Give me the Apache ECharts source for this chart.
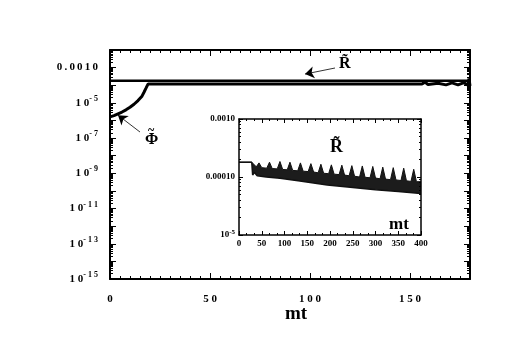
<!DOCTYPE html>
<html>
<head>
<meta charset="utf-8">
<script src="https://cdn.jsdelivr.net/npm/echarts@6/dist/echarts.min.js"></script>
<style>
  html, body { margin: 0; padding: 0; background: #fff; }
</style>
</head>
<body>
<div id="main" style="width: 526px;height:349px;"></div>

<script type="text/javascript">
    // main plot: R and Phi against mt
    var rMt = [0, 180];
    var rVal = [1.8e-4, 1.8e-4];

    var phiMt = [0, 2, 4, 6, 8, 10, 12, 14, 16, 17, 18, 19, 60, 100, 140, 156, 157.5, 159, 164, 168, 171, 174, 177, 179, 179.5, 180];
    var phiVal = [1.6e-6, 1.9e-6, 2.4e-6, 3.0e-6, 4.0e-6, 5.6e-6, 8.3e-6, 1.35e-5, 2.4e-5, 4.0e-5, 6.8e-5, 1.17e-4,
        1.17e-4, 1.17e-4, 1.17e-4, 1.17e-4, 1.5e-4, 1.1e-4, 1.3e-4, 1.05e-4, 1.35e-4, 1.05e-4, 1.4e-4, 1.0e-4, 2.4e-4, 9e-5];

    // inset: upper and lower edge of the oscillating R band
    var upMt = [0, 28, 31, 38, 44, 50, 61, 67, 73, 84, 90, 96, 106, 112, 118, 129, 135, 141, 152, 158, 164,
        174, 180, 186, 197, 203, 209, 220, 226, 232, 242, 248, 254, 265, 271, 277, 288, 294, 300,
        310, 316, 322, 333, 339, 345, 356, 362, 368, 378, 384, 390, 400];
    var upVal = [1.8e-4, 1.8e-4, 1.7e-4, 1.5e-4, 1.75e-4, 1.45e-4, 1.42e-4, 1.8e-4, 1.4e-4, 1.38e-4, 1.85e-4, 1.35e-4,
        1.33e-4, 1.8e-4, 1.3e-4, 1.28e-4, 1.75e-4, 1.26e-4, 1.24e-4, 1.7e-4, 1.22e-4,
        1.18e-4, 1.66e-4, 1.16e-4, 1.14e-4, 1.62e-4, 1.12e-4, 1.1e-4, 1.6e-4, 1.08e-4, 1.05e-4, 1.57e-4, 1.03e-4,
        1.0e-4, 1.55e-4, 9.9e-5, 9.7e-5, 1.52e-4, 9.6e-5, 9.3e-5, 1.48e-4, 9.2e-5, 9.0e-5, 1.45e-4, 8.9e-5,
        8.7e-5, 1.42e-4, 8.6e-5, 8.4e-5, 1.36e-4, 8.3e-5, 8.3e-5];
    var lowMt = [0, 28, 30, 34, 40, 60, 90, 130, 194, 250, 300, 350, 400];
    var lowVal = [1.8e-4, 1.8e-4, 1.08e-4, 1.2e-4, 1.05e-4, 1.0e-4, 9.5e-5, 8.6e-5, 7.3e-5, 6.6e-5, 6.0e-5, 5.6e-5, 5.2e-5];

    // ticks
    var mainXMajor = [0, 50, 100, 150];
    var insetXMajor = [0, 50, 100, 150, 200, 250, 300, 350, 400];
    var mainYLabels = [1e-15, 1e-13, 1e-11, 1e-9, 1e-7, 1e-5, 1e-3];
    var insetYLabels = [1e-5, 1e-4, 1e-3];

    function range(a, b, step) {
        var out = [];
        for (var v = a; v <= b + 1e-9; v += step) out.push(Math.round(v * 1000) / 1000);
        return out;
    }
    function decades(e0, e1) {
        var out = [];
        for (var e = e0; e <= e1; e++) out.push(Number('1e' + e));
        return out;
    }
    function logMinor(e0, e1) {
        var out = [];
        for (var e = e0; e < e1; e++) {
            for (var k = 2; k <= 9; k++) out.push(Number(k + 'e' + e));
        }
        return out;
    }
    function zip(xs, ys) {
        return xs.map(function (x, i) { return [x, ys[i]]; });
    }

    var mainXMinor = range(0, 180, 5).filter(function (v) { return v % 50 !== 0; });
    var insetXMinor = range(0, 400, 50 / 3).filter(function (v) { return Math.abs(v % 50) > 1 && Math.abs(v % 50 - 50) > 1; });

    var serif = '"Liberation Serif", "DejaVu Serif", serif';
    var rich = {
        b: { fontSize: 11, fontWeight: 'bold', fontFamily: serif, color: '#000', lineHeight: 16 },
        s: { fontSize: 8, fontWeight: 'bold', fontFamily: serif, color: '#000', lineHeight: 8, verticalAlign: 'top' },
        bi: { fontSize: 9, fontWeight: 'bold', fontFamily: serif, color: '#000', lineHeight: 13 },
        si: { fontSize: 7, fontWeight: 'bold', fontFamily: serif, color: '#000', lineHeight: 7, verticalAlign: 'top' }
    };

    function mainYFormat(v) {
        var e = Math.round(Math.log10(v));
        if (e === -3) return '{b|0\u2009.\u20090\u20090\u20091\u20090}';
        return '{b|1 0}{s|- ' + String(-e).split('').join(' ') + '}';
    }
    function insetYFormat(v) {
        var e = Math.round(Math.log10(v));
        if (e === -3) return '{bi|0.0010}';
        if (e === -4) return '{bi|0.00010}';
        return '{bi|10}{si|-5}';
    }

    // one axis drawing either major or minor ticks on a side
    function axis(grid, pos, type, min, max, ticks, len, opt) {
        opt = opt || {};
        return {
            type: type, gridIndex: grid, position: pos, min: min, max: max, z: 5,
            axisLine: { show: !!opt.line, onZero: false, lineStyle: { color: '#000', width: opt.lw || 2 } },
            axisTick: { show: true, inside: true, length: len, customValues: ticks, lineStyle: { color: '#000', width: 1 } },
            axisLabel: opt.labels ? {
                show: true, customValues: opt.labels, formatter: opt.fmt, margin: opt.margin || 8,
                rich: rich, fontSize: opt.fs || 11, fontWeight: 'bold', fontFamily: serif, color: '#000'
            } : { show: false },
            splitLine: { show: false },
            minorTick: { show: false },
            minorSplitLine: { show: false }
        };
    }

    var spacedNum = function (v) { return String(v).split('').join(' '); };

    var xAxes = [
        axis(0, 'bottom', 'value', 0, 180, mainXMajor, 6, { line: true, labels: mainXMajor, fmt: spacedNum, margin: 15 }),
        axis(0, 'bottom', 'value', 0, 180, mainXMinor, 3),
        axis(0, 'top', 'value', 0, 180, mainXMajor, 6, { line: true }),
        axis(0, 'top', 'value', 0, 180, mainXMinor, 3),
        axis(1, 'bottom', 'value', 0, 400, insetXMajor, 4, { line: true, lw: 1.5, labels: insetXMajor, fmt: function (v) { return String(v); }, margin: 4, fs: 9 }),
        axis(1, 'bottom', 'value', 0, 400, insetXMinor, 2),
        axis(1, 'top', 'value', 0, 400, insetXMajor, 4, { line: true, lw: 1.5 }),
        axis(1, 'top', 'value', 0, 400, insetXMinor, 2)
    ];
    var yAxes = [
        axis(0, 'left', 'log', 1e-15, 1e-2, decades(-15, -2), 6, { line: true, labels: mainYLabels, fmt: mainYFormat, margin: 12 }),
        axis(0, 'left', 'log', 1e-15, 1e-2, logMinor(-15, -2), 3),
        axis(0, 'right', 'log', 1e-15, 1e-2, decades(-15, -2), 6, { line: true }),
        axis(0, 'right', 'log', 1e-15, 1e-2, logMinor(-15, -2), 3),
        axis(1, 'left', 'log', 1e-5, 1e-3, decades(-5, -3), 4, { line: true, lw: 1.5, labels: insetYLabels, fmt: insetYFormat, margin: 4, fs: 9 }),
        axis(1, 'left', 'log', 1e-5, 1e-3, logMinor(-5, -3), 2),
        axis(1, 'right', 'log', 1e-5, 1e-3, decades(-5, -3), 4, { line: true, lw: 1.5 }),
        axis(1, 'right', 'log', 1e-5, 1e-3, logMinor(-5, -3), 2)
    ];

    var arrowStyle = { color: '#000', width: 0.8, type: 'solid' };
    var labelFont = function (px) { return 'bold ' + px + 'px ' + serif; };

    var myChart = echarts.init(document.getElementById('main'));

    var option = {
        animation: false,
        backgroundColor: '#fff',
        grid: [
            { left: 110, top: 50, right: 56, bottom: 70 },
            { left: 239, top: 119, right: 105, bottom: 114, show: true, backgroundColor: '#fff', borderWidth: 0, z: 3 }
        ],
        xAxis: xAxes,
        yAxis: yAxes,
        series: [
            {
                name: 'R', type: 'line', xAxisIndex: 0, yAxisIndex: 0, showSymbol: false,
                data: zip(rMt, rVal), lineStyle: { color: '#000', width: 2.5 },
                markLine: {
                    silent: true, symbol: ['none', 'arrow'], symbolSize: 9, label: { show: false },
                    lineStyle: arrowStyle,
                    data: [[{ coord: [112.5, 9.5e-4] }, { coord: [97.5, 4.3e-4] }]]
                }
            },
            {
                name: 'Phi', type: 'line', xAxisIndex: 0, yAxisIndex: 0, showSymbol: false,
                data: zip(phiMt, phiVal), lineStyle: { color: '#000', width: 3 },
                markLine: {
                    silent: true, symbol: ['none', 'arrow'], symbolSize: 9, label: { show: false },
                    lineStyle: arrowStyle,
                    data: [[{ coord: [15, 2.2e-7] }, { coord: [4, 2.0e-6] }]]
                }
            },
            {
                name: 'R inset upper', type: 'line', xAxisIndex: 4, yAxisIndex: 4, showSymbol: false, z: 4,
                data: zip(upMt, upVal), lineStyle: { color: '#111', width: 1 },
                areaStyle: { color: '#1c1c1c', opacity: 1, origin: 'start' }
            },
            {
                name: 'R inset lower', type: 'line', xAxisIndex: 4, yAxisIndex: 4, showSymbol: false, z: 4,
                data: zip(lowMt, lowVal), lineStyle: { color: '#111', width: 1.5 },
                areaStyle: { color: '#fff', opacity: 1, origin: 'start' }
            }
        ],
        graphic: [
            { type: 'text', left: 339, top: 56, z: 10, style: { text: 'R\u0303', font: labelFont(16), fill: '#000' } },
            { type: 'text', left: 145, top: 132, z: 10, style: { text: '\u03A6', font: labelFont(16), fill: '#000' } },
            { type: 'text', left: 148, top: 125, z: 10, style: { text: '~', font: labelFont(12), fill: '#000' } },
            { type: 'text', left: 330, top: 138, z: 10, style: { text: 'R\u0303', font: labelFont(18), fill: '#000' } },
            { type: 'text', left: 389, top: 216, z: 10, style: { text: 'mt', font: labelFont(17), fill: '#000' } },
            { type: 'text', left: 285, top: 305, z: 10, style: { text: 'mt', font: labelFont(19), fill: '#000' } }
        ]
    };

    myChart.setOption(option);
</script>
</body>
</html>
